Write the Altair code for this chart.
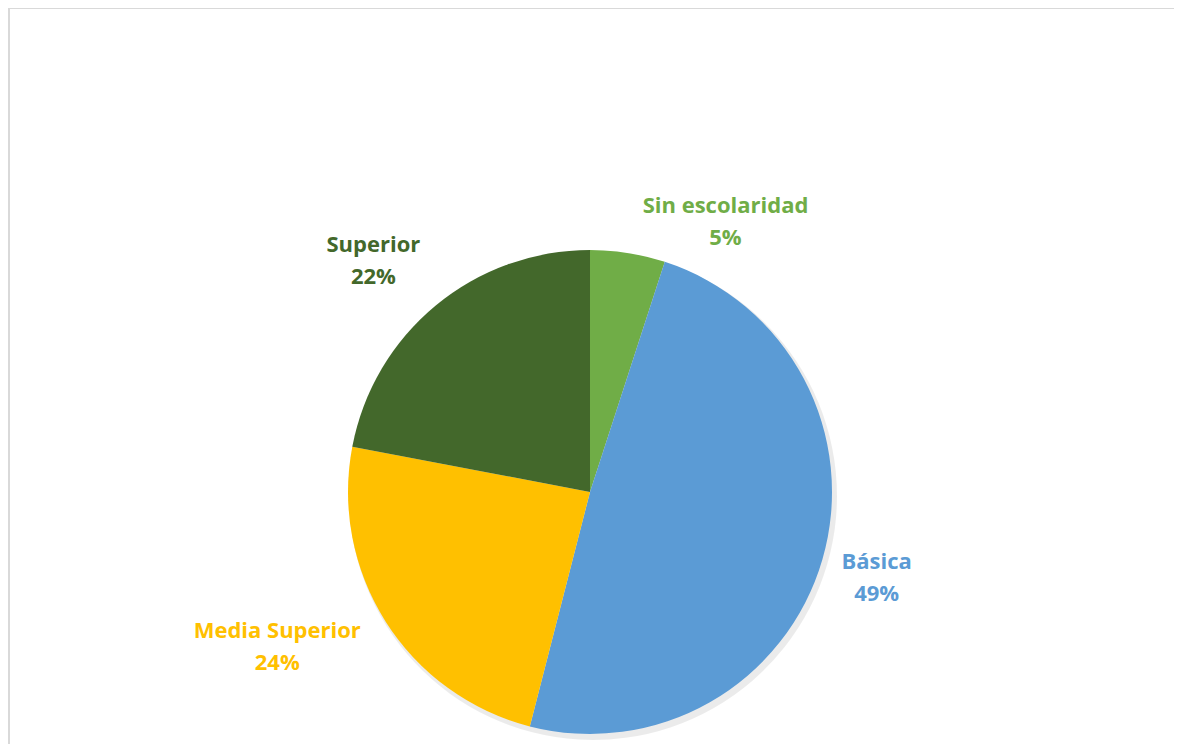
import altair as alt
import pandas as pd
import math

categories = ["Sin escolaridad", "Básica", "Media Superior", "Superior"]
values = [5, 49, 24, 22]
colors = ["#70AD47", "#5B9BD5", "#FFC000", "#43682B"]

df = pd.DataFrame({"cat": categories, "value": values, "idx": list(range(len(categories)))})

W, H = 1166, 736
CX, CY, R = 582, 484, 242
LABEL_R = 310
# label nudges (Excel "best fit" placement)
nudges = {
    "Sin escolaridad": (87, 20),
    "Básica": (-11, -16),
    "Media Superior": (-51, -27),
    "Superior": (-19, -8),
}

color_scale = alt.Scale(domain=categories, range=colors)

base = alt.Chart(df)

frame_top = base.mark_rule(color="#d9d9d9", strokeWidth=2).encode(
    x=alt.value(0), x2=alt.value(W), y=alt.value(0)
)
frame_left = base.mark_rule(color="#d9d9d9", strokeWidth=2).encode(
    x=alt.value(1), y=alt.value(0), y2=alt.value(H)
)

shadow = base.mark_arc(color="#000000", opacity=0.08).encode(
    theta=alt.Theta("value:Q", stack=True),
    order=alt.Order("idx:Q"),
    x=alt.value(CX + 3), y=alt.value(CY + 4), radius=alt.value(R + 2),
)

pie = base.mark_arc().encode(
    theta=alt.Theta("value:Q", stack=True),
    color=alt.Color("cat:N", scale=color_scale, legend=None),
    order=alt.Order("idx:Q"),
    x=alt.value(CX), y=alt.value(CY), radius=alt.value(R),
)

layers = [frame_top, frame_left, shadow, pie]
for cat, col in zip(categories, colors):
    dx, dy = nudges[cat]
    t = (
        base.transform_window(cum="sum(value)", sort=[alt.SortField("idx")], frame=[None, 0])
        .transform_calculate(mid="datum.cum - datum.value / 2",
                             label="datum.cat + '\\n' + datum.value + '%'")
        .transform_filter(alt.datum.cat == cat)
        .mark_text(font="Open Sans", fontSize=22, fontWeight="bold", color=col,
                   lineBreak="\n", lineHeight=32, align="center", baseline="middle",
                   dx=dx, dy=dy)
        .encode(
            theta=alt.Theta("mid:Q", stack=None,
                            scale=alt.Scale(domain=[0, 100], range=[0, 2 * math.pi])),
            x=alt.value(CX), y=alt.value(CY), radius=alt.value(LABEL_R),
            text="label:N",
        )
    )
    layers.append(t)

chart = (
    alt.layer(*layers)
    .resolve_scale(theta="independent")
    .properties(width=W, height=H, padding=0, autosize="none")
    .configure_view(stroke=None)
)

chart.save("out.html", embed_options={"renderer": "svg", "actions": False})
